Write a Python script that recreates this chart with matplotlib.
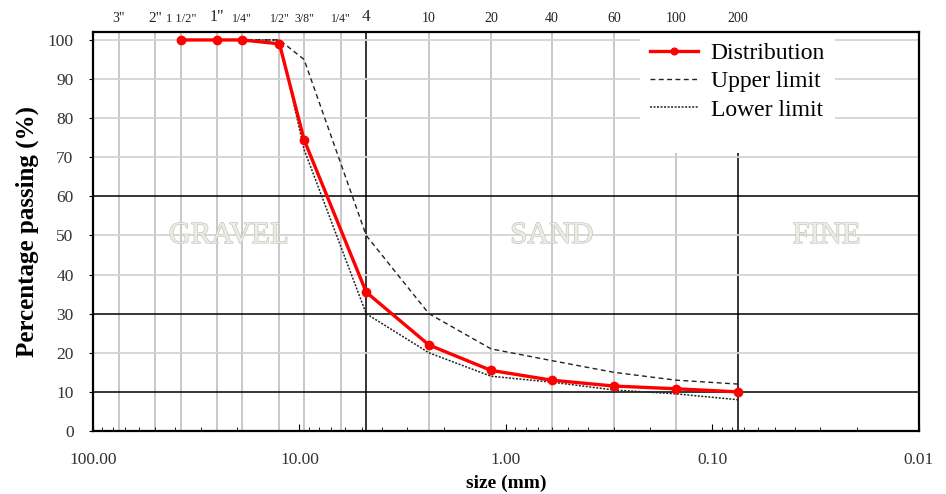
import matplotlib
matplotlib.use("Agg")
import matplotlib.pyplot as plt
import matplotlib.patheffects as pe
from matplotlib.ticker import FixedLocator, LogLocator, NullFormatter, FormatStrFormatter

plt.rcParams['font.family'] = ['Liberation Serif', 'DejaVu Serif']

# sieve openings (mm) used for the test
sieve_mm = [37.5, 25, 19, 12.5, 9.5, 4.75, 2.36, 1.18, 0.6, 0.3, 0.15, 0.075]
distribution = [100, 100, 100, 99, 74.5, 35.5, 22, 15.5, 13, 11.5, 10.8, 10]
upper_limit = [100, 100, 100, 100, 95, 50, 30, 21, 18, 15, 13, 12]
lower_limit = [100, 100, 100, 100, 72, 30, 20, 14, 12.5, 10.5, 9.5, 8]

# top sieve labels
top_pos = [75, 50, 37.5, 25, 19, 12.5, 9.5, 6.3, 4.75, 2.36, 1.18, 0.6, 0.3, 0.15, 0.075]
top_labels = ['3"', '2"', '1 1/2"', '1"', '1/4"', '1/2"', '3/8"', '1/4"', '4',
              '10', '20', '40', '60', '100', '200']
top_sizes = [10, 11, 9, 11.5, 8.5, 8.5, 8.5, 8.5, 12.5, 10, 10, 10, 10, 10, 10]

zones = ['GRAVEL', 'SAND', 'FINE']
zone_x = [22, 0.6, 0.028]

gray_v = [75, 50, 37.5, 25, 19, 12.5, 9.5, 6.3, 2.36, 1.18, 0.6, 0.3]
gray_h = [20, 40, 50, 70, 80, 90, 100]
black_h = [10, 30, 60]

fig = plt.figure(figsize=(9.46, 4.94), dpi=100)
ax = fig.add_axes([0.0983, 0.1275, 0.873, 0.8075])
ax.set_xscale('log')
ax.set_xlim(100, 0.01)
ax.set_ylim(0, 102)

gc = '#c4c4c4'
for v in gray_v:
    ax.axvline(v, color=gc, lw=1.3, zorder=1)
ax.vlines(0.15, 0, 71, color=gc, lw=1.3, zorder=1)
ax.axvline(4.75, color='black', lw=1.1, zorder=1)
ax.vlines(0.075, 0, 71, color='black', lw=1.1, zorder=1)
for h in gray_h:
    ax.axhline(h, color='#d4d4d4', lw=1.3, zorder=1)
for h in black_h:
    ax.axhline(h, color='black', lw=1.1, zorder=1)

# zone labels, faint embossed look
for txt, xpos in zip(zones, zone_x):
    ax.text(xpos, 50, txt, fontsize=22, color='#ececE4', ha='center', va='center',
            zorder=2, path_effects=[pe.withStroke(linewidth=0.9, foreground='#c4c4bc')])

ax.plot(sieve_mm, upper_limit, color='#222222', ls=(0, (3.5, 2.5)), lw=1.0,
        label='Upper limit', zorder=3)
ax.plot(sieve_mm, lower_limit, color='#222222', ls=(0, (1.3, 1.0)), lw=1.1,
        label='Lower limit', zorder=3)
ax.plot(sieve_mm, distribution, color='red', lw=2.4, marker='o', ms=6,
        label='Distribution', zorder=4)

h, l = ax.get_legend_handles_labels()
leg = ax.legend([h[2], h[0], h[1]], [l[2], l[0], l[1]], loc='upper left',
                bbox_to_anchor=(0.662, 1.0), fontsize=17, frameon=True,
                facecolor='white', edgecolor='none', framealpha=1,
                handlelength=2.0, labelspacing=0.28, borderaxespad=0.0,
                borderpad=0.45, handletextpad=0.55, markerscale=0.8)
leg.set_zorder(5)
leg.get_frame().set_boxstyle('square', pad=0.0)

ax.xaxis.set_major_locator(FixedLocator([100, 10, 1, 0.1, 0.01]))
ax.xaxis.set_major_formatter(FormatStrFormatter('%.2f'))
ax.xaxis.set_minor_locator(LogLocator(base=10, subs=range(2, 10)))
ax.xaxis.set_minor_formatter(NullFormatter())
ax.tick_params(axis='x', which='major', direction='in', length=5, labelsize=12.5,
               pad=15, labelcolor='#333333')
ax.tick_params(axis='x', which='minor', direction='in', length=3)
ax.set_yticks(range(0, 101, 10))
ax.tick_params(axis='y', direction='out', length=3, labelsize=12.5, pad=11,
               labelcolor='#333333')

for s in ax.spines.values():
    s.set_linewidth(1.6)
    s.set_zorder(6)

ax.set_xlabel('size (mm)', fontsize=14, fontweight='bold', labelpad=5)
ax.set_ylabel('Percentage passing (%)', fontsize=18, fontweight='bold', labelpad=6)

top = ax.twiny()
top.set_xscale('log')
top.set_xlim(ax.get_xlim())
top.xaxis.set_major_locator(FixedLocator(top_pos))
top.xaxis.set_minor_locator(FixedLocator([]))
top.set_xticklabels(top_labels)
top.tick_params(axis='x', length=0, pad=5, labelcolor='#222222')
for t, fs in zip(top.get_xticklabels(), top_sizes):
    t.set_fontsize(fs)
for s in top.spines.values():
    s.set_visible(False)

fig.savefig('out.png', dpi=100)
